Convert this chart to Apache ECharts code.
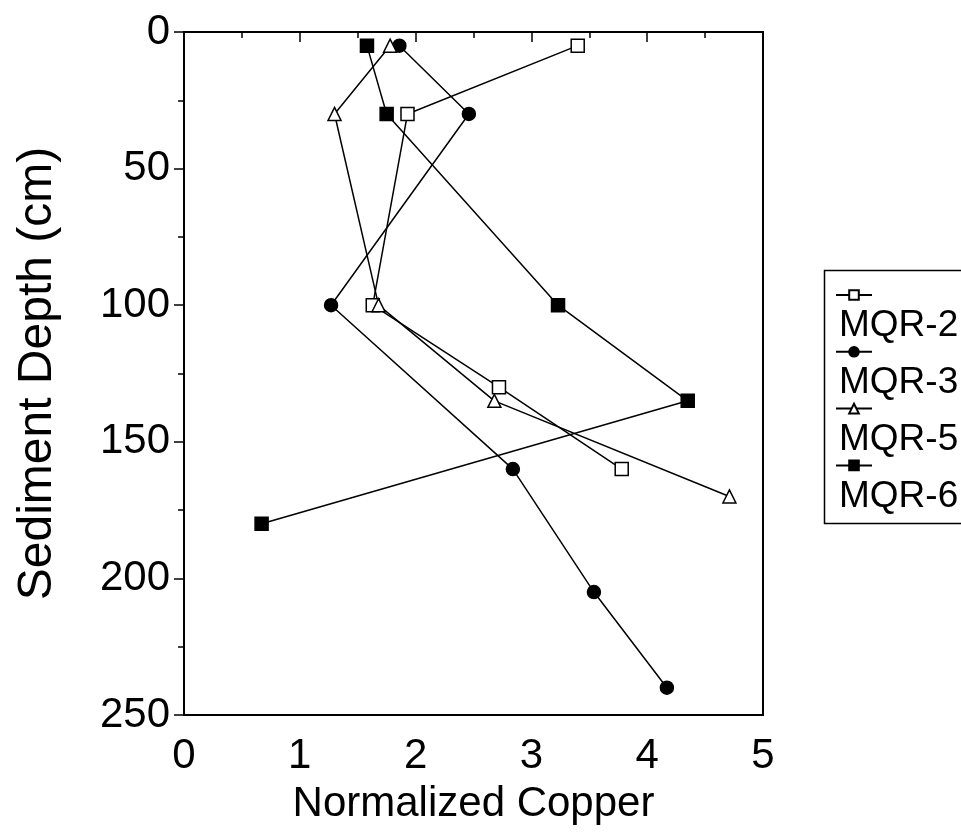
<!DOCTYPE html>
<html>
<head>
<meta charset="utf-8">
<script src="https://cdn.jsdelivr.net/npm/echarts@6/dist/echarts.min.js"></script>
<style>
html,body{margin:0;padding:0;background:#fff;}
#chart{width:961px;height:832px;}
</style>
</head>
<body>
<div id="chart"></div>
<script>
// Data (x = Normalized Copper, y = Sediment Depth cm)
const seriesNames = ['MQR-2', 'MQR-3', 'MQR-5', 'MQR-6'];
const mqr2Depth = [5, 30, 100, 130, 160];
const mqr2Cu    = [3.40, 1.93, 1.63, 2.72, 3.78];
const mqr3Depth = [5, 30, 100, 160, 205, 240];
const mqr3Cu    = [1.86, 2.46, 1.27, 2.84, 3.54, 4.17];
const mqr5Depth = [5, 30, 100, 135, 170];
const mqr5Cu    = [1.78, 1.30, 1.68, 2.68, 4.71];
const mqr6Depth = [5, 30, 100, 135, 180];
const mqr6Cu    = [1.58, 1.75, 3.23, 4.35, 0.67];
const xTicks = [0, 1, 2, 3, 4, 5];
const yTicks = [0, 50, 100, 150, 200, 250];

const FONT = 'Liberation Sans, Arial, sans-serif';
const pair = (xs, ys) => xs.map((x, i) => [x, ys[i]]);

const styles = [
  {symbol: 'rect', fill: '#fff'},
  {symbol: 'circle', fill: '#000'},
  {symbol: 'triangle', fill: '#fff'},
  {symbol: 'rect', fill: '#000'}
];
const dataSets = [pair(mqr2Cu, mqr2Depth), pair(mqr3Cu, mqr3Depth), pair(mqr5Cu, mqr5Depth), pair(mqr6Cu, mqr6Depth)];

const series = seriesNames.map((n, i) => ({
  name: n,
  type: 'line',
  data: dataSets[i],
  symbol: styles[i].symbol,
  symbolSize: 13,
  showAllSymbol: true,
  lineStyle: {color: '#000', width: 1.5},
  itemStyle: {color: styles[i].fill, borderColor: '#000', borderWidth: 1.5},
  emphasis: {disabled: true},
  z: 3
}));

const chart = echarts.init(document.getElementById('chart'), null, {renderer: 'canvas'});
chart.setOption({
  backgroundColor: '#fff',
  animation: false,
  grid: {left: 184, right: 198, top: 32, bottom: 117, show: true, borderColor: '#000', borderWidth: 2, backgroundColor: 'transparent'},
  xAxis: {
    type: 'value', min: xTicks[0], max: xTicks[xTicks.length - 1], interval: 1,
    name: 'Normalized Copper', nameLocation: 'middle', nameGap: 68,
    nameTextStyle: {fontFamily: FONT, fontSize: 42, color: '#000'},
    axisLine: {lineStyle: {color: '#000', width: 2}},
    axisTick: {show: true, length: 10, lineStyle: {color: '#000', width: 1.5}},
    minorTick: {show: true, splitNumber: 2, length: 6, lineStyle: {color: '#000', width: 1.5}},
    axisLabel: {fontFamily: FONT, fontSize: 42, color: '#000', margin: 20},
    splitLine: {show: false}
  },
  yAxis: {
    type: 'value', inverse: true, min: yTicks[0], max: yTicks[yTicks.length - 1], interval: 50,
    name: 'Sediment Depth (cm)', nameLocation: 'middle', nameGap: 122,
    nameTextStyle: {fontFamily: FONT, fontSize: 48, color: '#000'},
    axisLine: {lineStyle: {color: '#000', width: 2}},
    axisTick: {show: true, length: 10, lineStyle: {color: '#000', width: 1.5}},
    minorTick: {show: true, splitNumber: 2, length: 6, lineStyle: {color: '#000', width: 1.5}},
    axisLabel: {fontFamily: FONT, fontSize: 42, color: '#000', margin: 14},
    splitLine: {show: false}
  },
  legend: [
    {
      data: seriesNames, orient: 'vertical', left: 830, top: 284,
      itemWidth: 36, itemHeight: 12, itemGap: 45,
      formatter: () => '', selectedMode: false,
      textStyle: {fontSize: 1}
    },
    {
      data: seriesNames.map(n => ({name: n, icon: 'none'})), orient: 'vertical', left: 829, top: 301,
      itemWidth: 0, itemHeight: 12, itemGap: 17, selectedMode: false,
      textStyle: {fontFamily: FONT, fontSize: 37, color: '#000', lineHeight: 40, padding: 0}
    }
  ],
  graphic: [{
    type: 'rect', left: 822, top: 268, shape: {width: 160, height: 253},
    style: {fill: 'none', stroke: '#000', lineWidth: 1.5}, silent: true
  }],
  series: series
});
</script>
</body>
</html>
